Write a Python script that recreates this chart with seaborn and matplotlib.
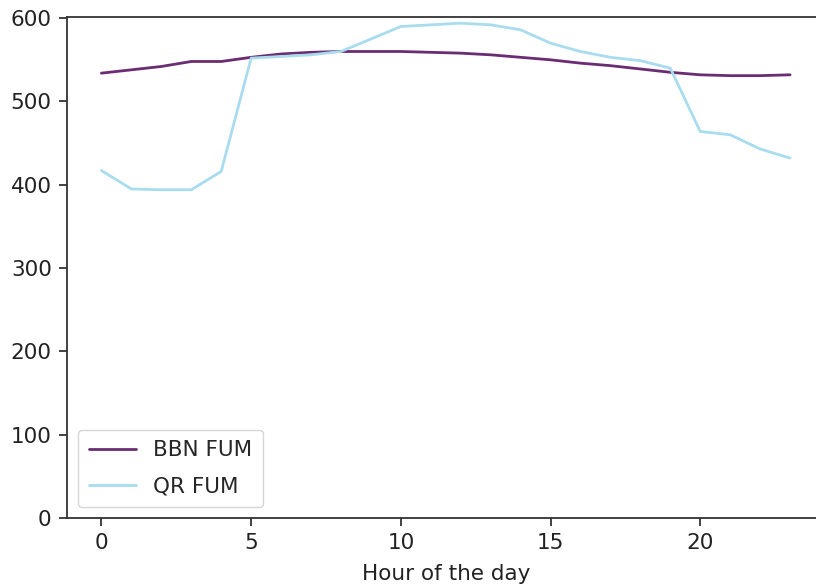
import matplotlib
matplotlib.use("Agg")
import matplotlib.pyplot as plt
import seaborn as sns
import pandas as pd

hours = list(range(24))
bbn_fum = [534, 538, 542, 548, 548, 553, 557, 559, 560, 560, 560, 559,
           558, 556, 553, 550, 546, 543, 539, 535, 532, 531, 531, 532]
qr_fum = [417, 395, 394, 394, 416, 552, 554, 556, 560, 575, 590, 592,
          594, 592, 586, 570, 560, 553, 549, 540, 464, 460, 443, 432]
series_names = ["BBN FUM", "QR FUM"]
colors = ["#6a2c72", "#a8dcee"]

df = pd.DataFrame({
    "hour": hours * 2,
    "value": bbn_fum + qr_fum,
    "series": [series_names[0]] * 24 + [series_names[1]] * 24,
})

sns.set_style("ticks")
plt.rcParams["font.family"] = ["DejaVu Sans"]

fs = 15.5
fig = plt.figure(figsize=(8.16, 5.87), dpi=100)
ax = fig.add_axes([67 / 816, 69 / 587, (824.5 - 67) / 816, 501.5 / 587])
sns.lineplot(data=df, x="hour", y="value", hue="series",
             palette=dict(zip(series_names, colors)), linewidth=2.0, ax=ax)

ax.set_ylim(0, 602)
ax.set_xlim(-1.15, 24.15)
ax.set_xticks([0, 5, 10, 15, 20])
ax.set_yticks([0, 100, 200, 300, 400, 500, 600])
ax.set_xlabel("Hour of the day", fontsize=fs, color="#222222", labelpad=8)
ax.set_ylabel("")
ax.tick_params(labelsize=fs, length=6, width=1.2, colors="#222222", pad=5)
for s in ax.spines.values():
    s.set_linewidth(1.3)
    s.set_color("#333333")
    s.set_visible(True)
leg = ax.legend(loc="lower left", fontsize=fs, frameon=True,
                borderaxespad=0.5, handlelength=2.2, borderpad=0.5,
                labelspacing=0.75)
leg.get_frame().set_edgecolor("#cccccc")

fig.savefig("out.png", dpi=100)
